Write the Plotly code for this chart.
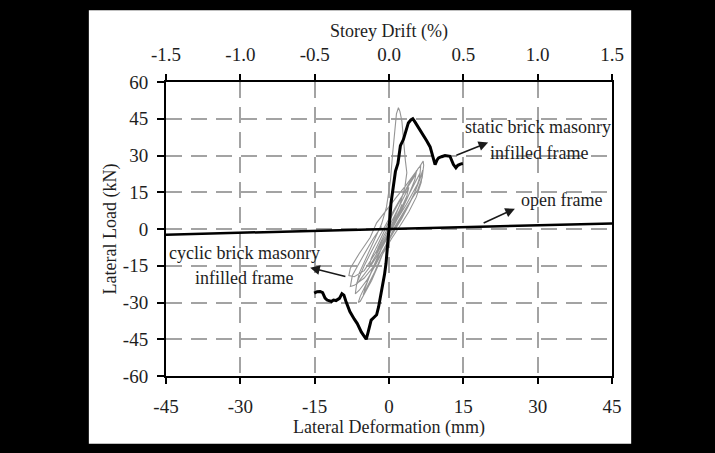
import plotly.graph_objects as go

# ---------------- data ----------------
x_ticks = [-45, -30, -15, 0, 15, 30, 45]
x_tick_labels = ["-45", "-30", "-15", "0", "15", "30", "45"]
y_ticks = [-60, -45, -30, -15, 0, 15, 30, 45, 60]
y_tick_labels = ["-60", "-45", "-30", "-15", "0", "15", "30", "45", "60"]
drift_ticks = [-1.5, -1.0, -0.5, 0.0, 0.5, 1.0, 1.5]
drift_tick_labels = ["-1.5", "-1.0", "-0.5", "0.0", "0.5", "1.0", "1.5"]

# open frame (mm, kN)
open_x = [-45, -38, -30, -22, -15, -8, 0, 8, 15, 18, 25, 32, 38, 45]
open_y = [-2.3, -2.0, -1.6, -1.2, -0.8, -0.4, 0.0, 0.4, 0.8, 1.1, 1.3, 1.7, 2.1, 2.2]

# static brick masonry infilled frame (mm, kN)
static_x = [-15.1, -14.5, -13.9, -13.4, -12.9, -12.5, -11.6, -11.2, -10.7, -10.0,
            -9.5, -9.1, -8.7, -7.9, -7.0, -6.4, -5.6, -5.0, -4.6, -4.3,
            -3.9, -3.6, -3.0, -2.5, -2.1, -1.8, -1.3, -0.9, -0.6, -0.3,
            -0.1, 0.0, 0.2, 0.4, 0.7, 1.0, 1.3, 1.8, 2.1, 2.3,
            2.9, 3.4, 3.9, 4.4, 4.8, 5.2, 5.7, 6.3, 6.9, 7.6,
            8.3, 8.8, 9.3, 9.7, 10.0, 10.6, 11.3, 12.3, 12.7, 13.0,
            13.5, 13.9, 14.4, 14.9]
static_y = [-26.2, -25.6, -25.5, -26.0, -28.2, -29.0, -29.6, -29.0, -29.2, -28.3,
            -26.4, -27.0, -29.5, -33.7, -36.8, -38.6, -42.0, -43.8, -45.0, -42.8,
            -40.0, -37.2, -36.0, -35.0, -31.8, -28.5, -24.0, -18.5, -14.0, -8.0,
            -3.0, 0.0, 5.0, 10.5, 15.5, 20.0, 23.5, 26.8, 31.0, 34.0,
            36.5, 40.0, 43.3, 44.5, 45.0, 43.8, 42.2, 40.5, 38.5, 36.0,
            33.5, 30.0, 26.3, 28.2, 29.0, 29.5, 30.0, 29.7, 28.0, 26.3,
            25.0, 26.0, 26.5, 26.7]

# cyclic brick masonry infilled frame (mm, kN)
cyclic_x = [0, 1.2, 2.2, 2.6, 2.2, 0.8, -0.8, -2, -2.6, -2.2, -1, 0.5, 2, 3.2, 4, 3.6,
            2.2, 0.8, -1, -2.8, -4, -3.6, -2, -0.5, 1, 2.5, 4, 5.2, 5.6, 5.2, 3.8,
            2.2, 0.5, -1.5, -3.5, -5.5, -6.5, -6, -4.2, -2.5, -1.5, -0.5, 0.3, 0.7,
            1.1, 1.5, 1.9, 2.2, 2.6, 2.9, 3.3, 3.6, 3.2, 2.2, 0.8, -0.8, -2.8, -5,
            -7, -8.1, -7.8, -6, -3.8, -2.5, -0.5, 1.5, 3.5, 5, 6.2, 6.9, 7, 6.7,
            5.8, 4.5, 3, 1.2, -0.5, -2, -3.5, -4.8, -5.8, -6.2, -5.8, -4.5, -3,
            -1.5, 0, 1.5, 3.5, 5, 6.2, 6.8, 6.5, 5.5, 4, 2.3, 0.5, -1.5, -3, -4.5,
            -5.2, -4.8, -3.5, -2, -1,
            0.5, 2, 3.5, 4.8, 5.8, 6.3, 6, 5, 3.8, 2.5, 1, -1, -2.8, -4.5, -6,
            -6.8, -6.5, -5, -3, -1.2, 0.5, 2.2, 3.8, 5, 5.8, 6.4, 6.2, 5.2, 4,
            2.5, 0.8, -1, -3, -5, -7, -7.8, -7.4, -5.5, -3.2, -1.5]
cyclic_y = [0, 4, 8, 10, 7, 1.5, -4, -8, -10, -7.5, -2.5, 3, 9, 14, 17, 13.5,
            7, 1, -5, -11, -15.5, -12, -5, 1, 7, 13, 18.5, 22.5, 24, 20, 13,
            6, -0.5, -8, -14.5, -20, -22.5, -18, -10, -3, 2, 9, 20, 30,
            40, 47, 49.5, 48, 44, 36, 28, 23, 17, 10, 3, -3, -10, -17,
            -19.5, -19, -16, -10, -3.5, 2.5, 8, 13, 18, 22, 25.5, 27.7, 26, 21,
            16, 12, 7, 1, -6, -14, -21, -26, -29.5, -30, -27.5, -22, -15,
            -8, -2, 3.5, 10, 15.5, 20, 24, 19, 13, 7, 1.5, -4, -11, -18, -24,
            -27, -24, -17, -10, -5,
            1, 6, 12, 17, 21, 23, 19, 14, 9, 4, -1, -8, -15, -21, -25,
            -26.5, -22, -15, -7, 0, 6, 12, 17, 21, 24.5, 26, 21, 15, 10,
            5, -1, -8, -15, -20, -23, -23.5, -19, -12, -4, 1]

# ---------------- figure ----------------
FONT = "Liberation Serif, Times New Roman, serif"
TXT = "#1e1e1e"

fig = go.Figure()

fig.add_trace(go.Scatter(x=cyclic_x, y=cyclic_y, mode="lines",
                         line=dict(color="#959595", width=1.1),
                         name="cyclic brick masonry infilled frame"))
fig.add_trace(go.Scatter(x=open_x, y=open_y, mode="lines",
                         line=dict(color="black", width=2.5),
                         name="open frame"))
fig.add_trace(go.Scatter(x=static_x, y=static_y, mode="lines",
                         line=dict(color="black", width=3),
                         name="static brick masonry infilled frame"))
# invisible trace to carry the top (storey drift) axis
fig.add_trace(go.Scatter(x=drift_ticks, y=[0] * len(drift_ticks), xaxis="x2",
                         mode="lines", opacity=0, hoverinfo="skip",
                         showlegend=False))

grid = dict(showgrid=True, gridcolor="#a3a3a3", gridwidth=1.5, griddash="16px,9px")
tickfont = dict(family=FONT, size=19, color=TXT)
titlefont = dict(family=FONT, size=18, color=TXT)

fig.update_layout(
    width=715, height=453, autosize=False,
    margin=dict(l=166, r=103, t=82, b=77, autoexpand=False),
    paper_bgcolor="black", plot_bgcolor="white",
    showlegend=False,
    font=dict(family=FONT, size=18, color=TXT),
    xaxis=dict(range=[-45, 45], tickvals=x_ticks, ticktext=x_tick_labels,
               ticks="outside", ticklen=6, tickwidth=1.5, tickcolor="black",
               showline=True, linecolor="black", linewidth=2, mirror=True,
               zeroline=False, ticklabelstandoff=6, automargin=False,
               tickfont=tickfont,
               title=dict(text="Lateral Deformation (mm)", standoff=1,
                          font=titlefont),
               **grid),
    xaxis2=dict(range=[-1.5, 1.5], overlaying="x", side="top", anchor="y",
                tickvals=drift_ticks, ticktext=drift_tick_labels,
                ticks="outside", ticklen=7, tickwidth=1.5, tickcolor="black",
                showline=False, showgrid=False, zeroline=False,
                ticklabelstandoff=5, automargin=False, tickfont=tickfont,
                title=dict(text="Storey Drift (%)", standoff=2,
                           font=titlefont)),
    yaxis=dict(range=[-60, 60], tickvals=y_ticks, ticktext=y_tick_labels,
               ticks="outside", ticklen=7, tickwidth=1.5, tickcolor="black",
               showline=True, linecolor="black", linewidth=2, mirror=True,
               zeroline=False, ticklabelstandoff=5, automargin=False,
               tickfont=tickfont,
               title=dict(text="Lateral Load (kN)", standoff=2,
                          font=titlefont),
               **grid),
)

# white panel behind the chart
fig.add_shape(type="rect", xref="paper", yref="paper",
              x0=-0.173, x1=1.043, y0=-0.2305, y1=1.244,
              fillcolor="white", line=dict(width=0), layer="below")

# labels
labels = [
    ("static brick masonry", 30.1, 41.5),
    ("infilled frame", 30.2, 31.2),
    ("open frame", 34.9, 12.0),
    ("cyclic brick masonry", -29.1, -9.7),
    ("infilled frame", -29.2, -19.9),
]
for t, lx, ly in labels:
    fig.add_annotation(x=lx, y=ly, text=t, showarrow=False,
                       font=dict(family=FONT, size=18, color=TXT),
                       bgcolor="rgba(0,0,0,0)")

# arrows (head, tail)
arrows = [
    (20.0, 35.3, 13.3, 29.9),
    (25.4, 8.3, 18.8, 2.2),
    (-15.9, -15.8, -8.5, -19.5),
]
for hx, hy, tx, ty in arrows:
    fig.add_annotation(x=hx, y=hy, ax=tx, ay=ty, xref="x", yref="y",
                       axref="x", ayref="y", text="", showarrow=True,
                       arrowhead=2, arrowsize=1.2, arrowwidth=1.6,
                       arrowcolor="#1a1a1a")

fig.write_html(
    "out.html",
    config={"displayModeBar": False},
    post_script="document.body.style.margin='0';"
                "document.body.style.background='black';",
)
